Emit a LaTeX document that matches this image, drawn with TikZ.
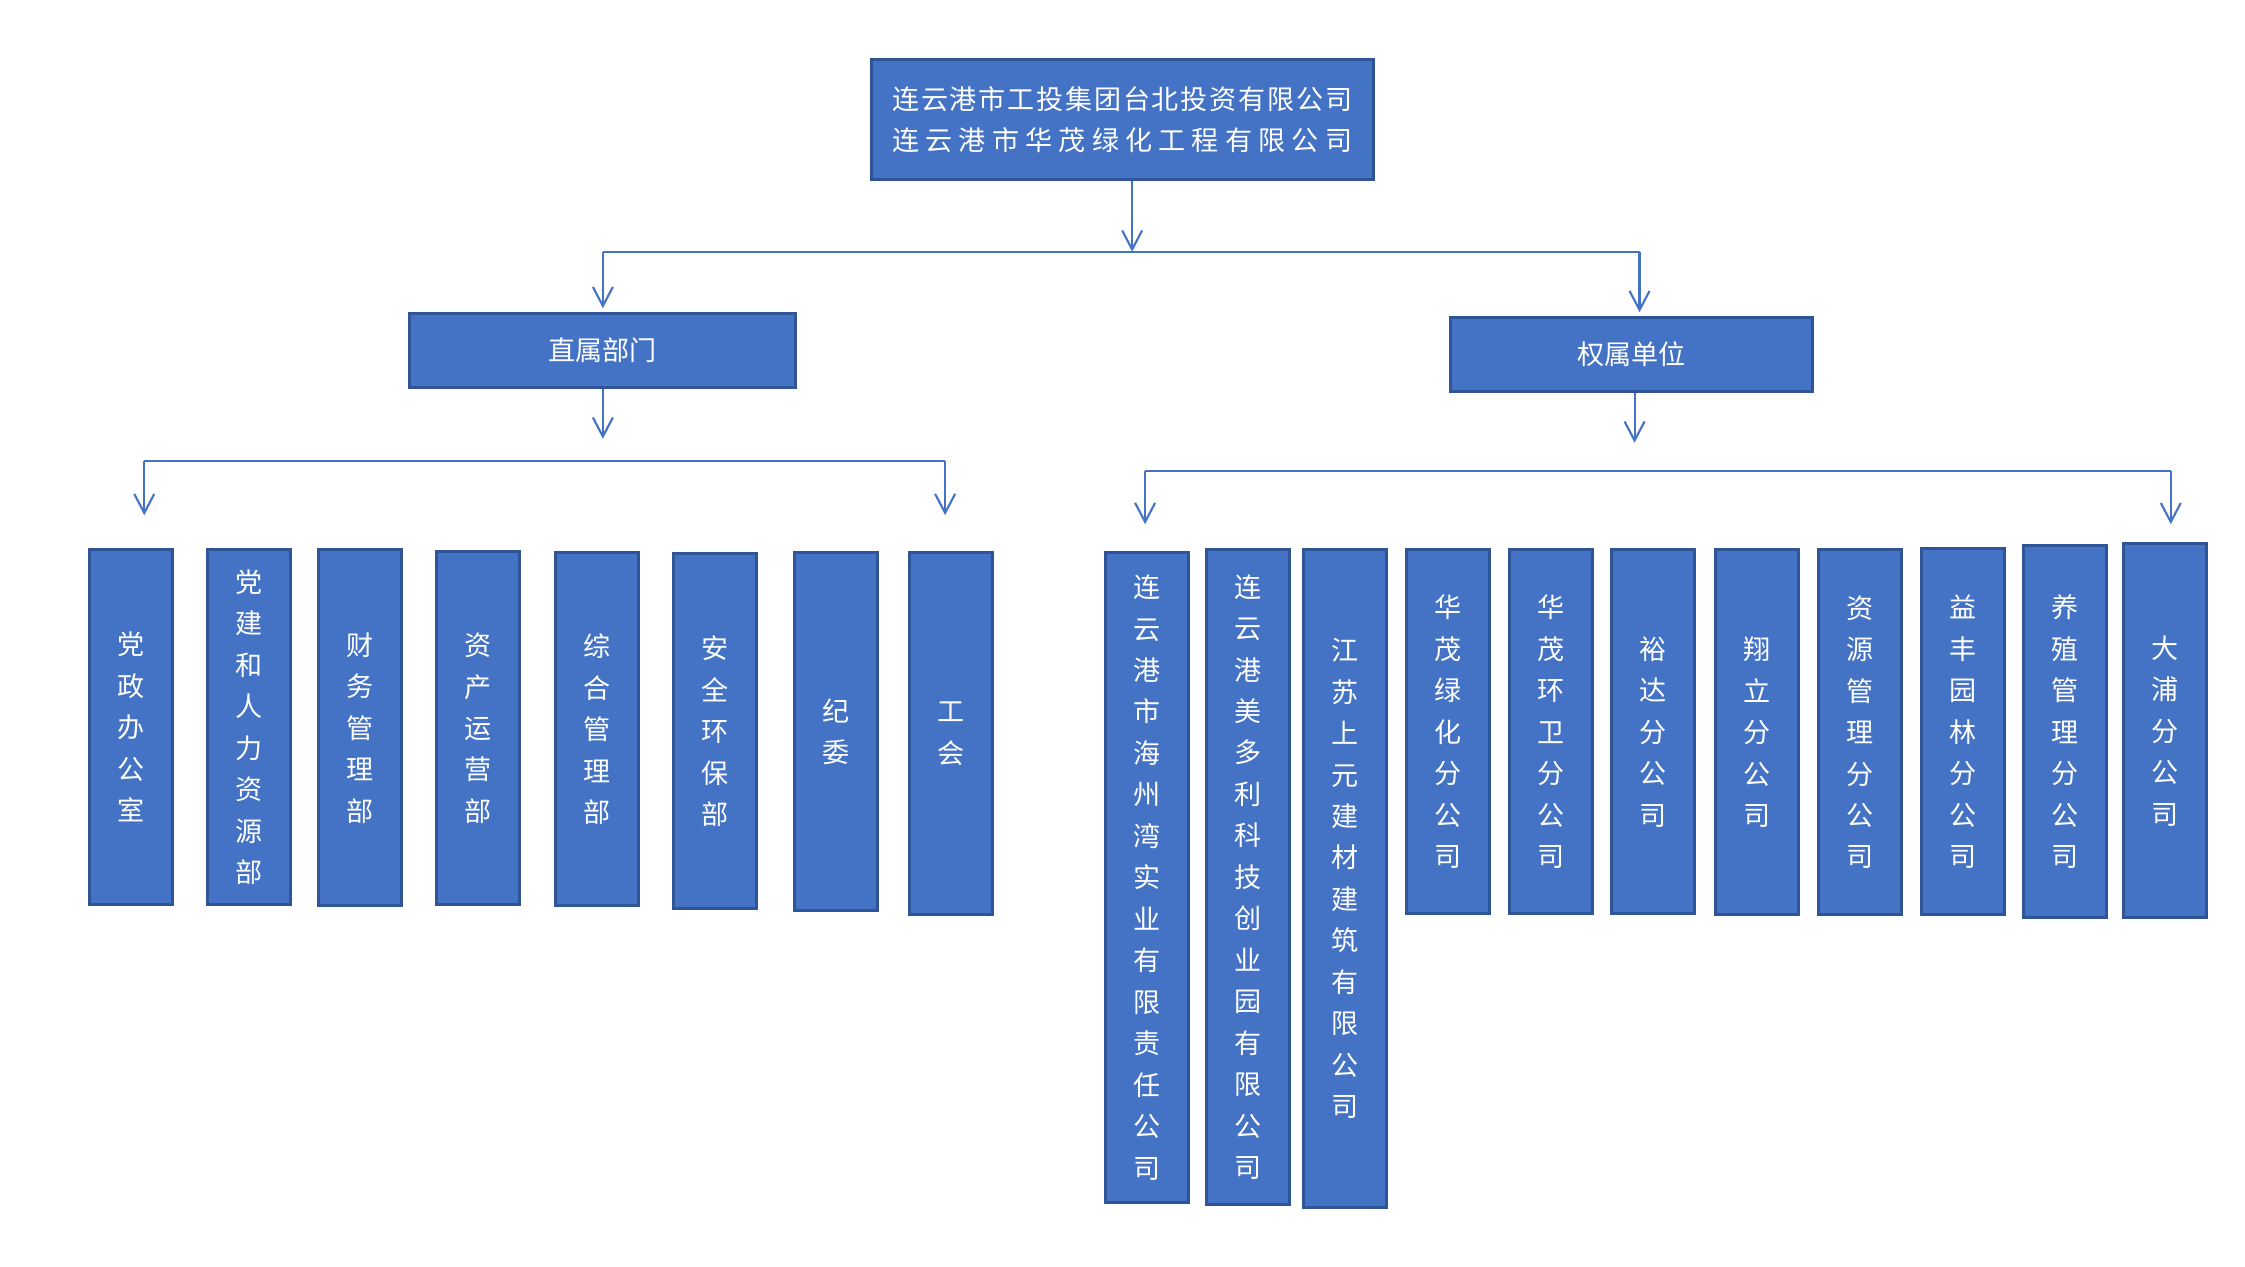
\documentclass[tikz,border=0pt]{standalone}
\usepackage{fontspec}
\setmainfont{Noto Sans CJK SC}
\usepackage{tikz}
\usetikzlibrary{arrows.meta}
\definecolor{boxblue}{HTML}{4472C4}
\definecolor{edgeblue}{HTML}{2F5597}
\tikzset{
    unit/.style={draw=edgeblue, line width=0.85pt, fill=boxblue, text=white,
            align=center, inner sep=0pt, font=\fontsize{7.7pt}{11.8pt}\selectfont},
    link/.style={draw=boxblue, line width=0.6pt},
    tip/.style={-{Straight Barb[length=0.19cm,width=0.2cm]}},
}

\begin{document}
\begin{tikzpicture}[x=0.00995cm, y=-0.00995cm]
        \useasboundingbox (0,0) rectangle (22.45cm,-12.66cm);
        %draw head company
        \node[unit, minimum width=5.02cm, minimum height=1.2cm] (top) at (1128,120)
            {\makebox[4.6cm][s]{连\hfill 云\hfill 港\hfill 市\hfill 工\hfill 投\hfill 集\hfill 团\hfill 台\hfill 北\hfill 投\hfill 资\hfill 有\hfill 限\hfill 公\hfill 司}\\
             \makebox[4.6cm][s]{连\hfill 云\hfill 港\hfill 市\hfill 华\hfill 茂\hfill 绿\hfill 化\hfill 工\hfill 程\hfill 有\hfill 限\hfill 公\hfill 司}};
        %draw the two groups
        \node[unit, minimum width=3.86cm, minimum height=0.74cm] (zs) at (606,352) {直属部门};
        \node[unit, minimum width=3.62cm, minimum height=0.74cm] (qs) at (1640,356) {权属单位};
        %split from head company
        \coordinate (hub) at (1138,253);
        \coordinate (hubl) at (606,253);
        \coordinate (hubr) at (1648,253);
        \draw[link, tip] (top.south -| hub) -- (hub);
        \draw[link] (hubl) -- (hubr);
        \draw[link, tip, shorten >=1pt] (hubl) -- (zs.north);
        \draw[link, tip, shorten >=1pt] (hubr) -- (hubr |- qs.north);
        %draw departments
        \foreach \x/\t/\h/\txt [count=\i] in {
                132/551/357/{党\\政\\办\\公\\室},
                250/551/357/{党\\建\\和\\人\\力\\资\\源\\部},
                362/551/358/{财\\务\\管\\理\\部},
                480/553/355/{资\\产\\运\\营\\部},
                600/554/355/{综\\合\\管\\理\\部},
                719/555/357/{安\\全\\环\\保\\部},
                840/554/360/{纪\\委},
                956/554/364/{工\\会}}
            \node[unit, anchor=north, minimum width=0.83cm, minimum height=\h*0.00995cm] (l\i) at (\x,\t) {\txt};
        %draw subsidiaries
        \foreach \x/\t/\h/\txt [count=\i] in {
                1153/554/653/{连\\云\\港\\市\\海\\州\\湾\\实\\业\\有\\限\\责\\任\\公\\司},
                1254/551/658/{连\\云\\港\\美\\多\\利\\科\\技\\创\\业\\园\\有\\限\\公\\司},
                1352/551/661/{江\\苏\\上\\元\\建\\材\\建\\筑\\有\\限\\公\\司},
                1455/551/366/{华\\茂\\绿\\化\\分\\公\\司},
                1559/551/366/{华\\茂\\环\\卫\\分\\公\\司},
                1662/551/366/{裕\\达\\分\\公\\司},
                1766/551/367/{翔\\立\\分\\公\\司},
                1870/551/367/{资\\源\\管\\理\\分\\公\\司},
                1973/550/368/{益\\丰\\园\\林\\分\\公\\司},
                2076/547/374/{养\\殖\\管\\理\\分\\公\\司},
                2176/545/376/{大\\浦\\分\\公\\司}}
            \node[unit, anchor=north, minimum width=0.83cm, minimum height=\h*0.00995cm] (r\i) at (\x,\t) {\txt};
        %split under departments
        \coordinate (zsd) at (606,441);
        \coordinate (barl1) at (145,463);
        \coordinate (barl2) at (950,463);
        \draw[link, tip] (zs.south) -- (zsd);
        \draw[link] (barl1) -- (barl2);
        \draw[link, tip, shorten >=0.33cm] (barl1) -- (barl1 |- l1.north);
        \draw[link, tip, shorten >=0.36cm] (barl2) -- (barl2 |- l8.north);
        %split under subsidiaries
        \coordinate (qsd) at (1643,445);
        \coordinate (barr1) at (1151,473);
        \coordinate (barr2) at (2182,473);
        \draw[link, tip] (qs.south -| qsd) -- (qsd);
        \draw[link] (barr1) -- (barr2);
        \draw[link, tip, shorten >=0.27cm] (barr1) -- (barr1 |- r1.north);
        \draw[link, tip, shorten >=0.18cm] (barr2) -- (barr2 |- r11.north);
    \end{tikzpicture}
\end{document}
